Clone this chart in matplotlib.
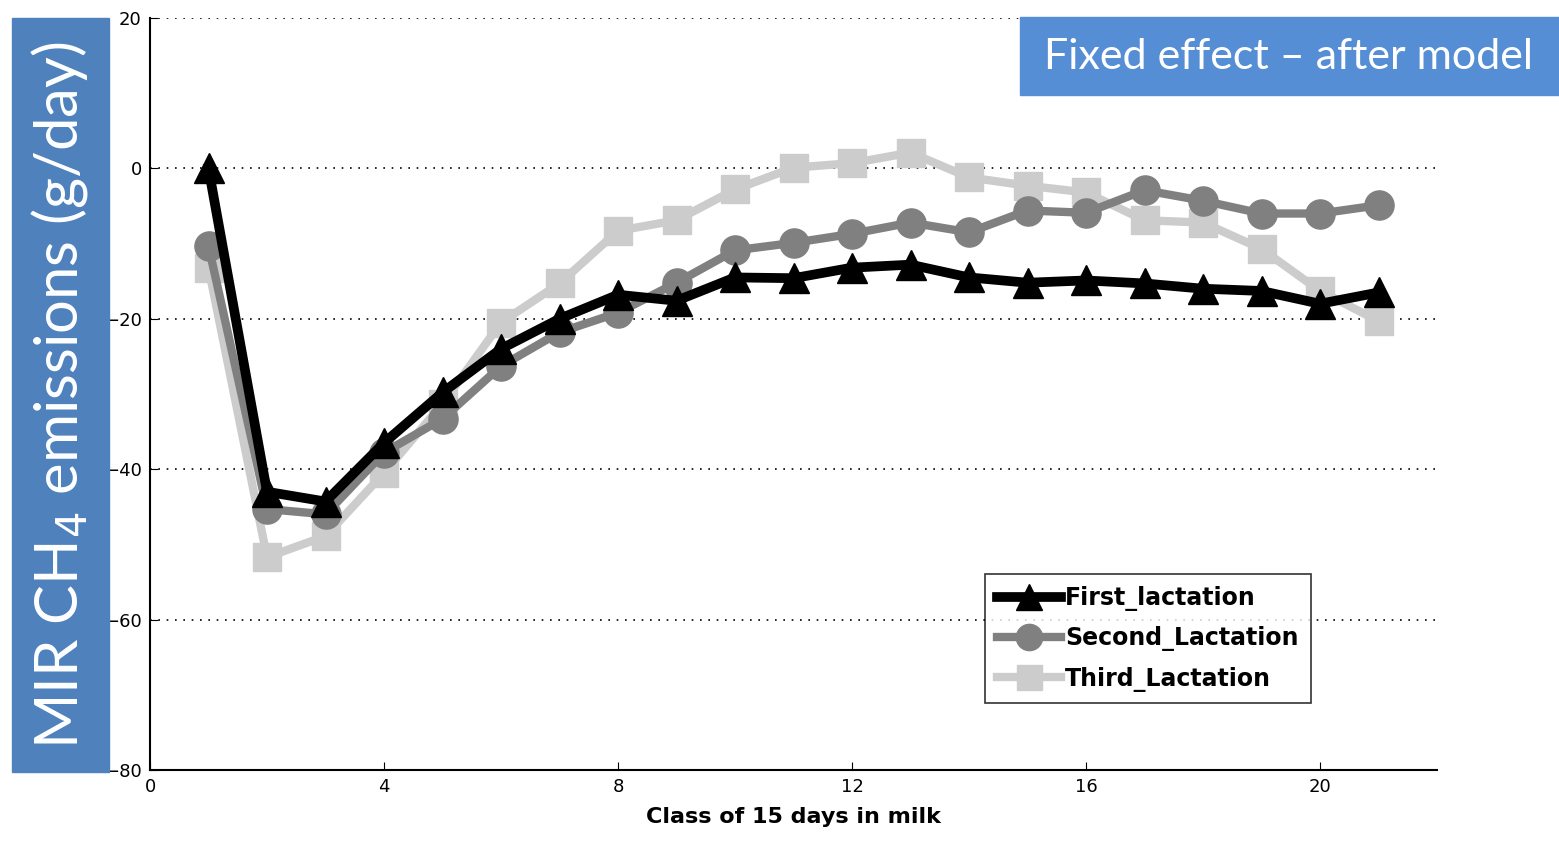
import matplotlib
matplotlib.use("Agg")
import matplotlib.pyplot as plt
from matplotlib.patches import Rectangle

x_class = list(range(1, 22))
first_lactation = [0, -43, -44.3, -36.5, -29.8, -24, -20, -16.8, -17.6, -14.5, -14.6, -13.2, -12.8,
                   -14.5, -15.2, -14.9, -15.3, -16, -16.3, -18, -16.5]
second_lactation = [-10.3, -45.3, -46, -37.8, -33.3, -26.3, -21.8, -19.2, -15.2, -10.9, -9.9, -8.7, -7.2,
                    -8.5, -5.6, -5.9, -2.9, -4.3, -6, -6, -4.9]
third_lactation = [-13.2, -51.7, -48.9, -40.5, -31.3, -20.5, -15.3, -8.3, -6.9, -2.8, 0.1, 0.7, 2.1,
                   -1.2, -2.3, -3.2, -6.9, -7.2, -10.7, -16.3, -20.3]
series_labels = ["First_lactation", "Second_Lactation", "Third_Lactation"]
x_ticks = [0, 4, 8, 12, 16, 20]
y_ticks = [-80, -60, -40, -20, 0, 20]

fig = plt.figure(figsize=(15.59, 8.46), dpi=100)
ax = fig.add_axes([150/1559, 1-770/846, (1437-150)/1559, (770-18)/846])

ax.plot(x_class, third_lactation, color="#cccccc", lw=6, marker="s", ms=20, label=series_labels[2], zorder=3)
ax.plot(x_class, second_lactation, color="#808080", lw=6, marker="o", ms=21, label=series_labels[1], zorder=4)
ax.plot(x_class, first_lactation, color="black", lw=7, marker="^", ms=21, label=series_labels[0], zorder=5)

ax.set_xlim(0, 22)
ax.set_ylim(-80, 20)
ax.set_xticks(x_ticks)
ax.set_yticks(y_ticks)
ax.tick_params(direction="in", length=6, labelsize=13, colors="black", pad=6)
ax.yaxis.grid(True, linestyle=(0, (1, 4)), color="black", lw=1.2)
ax.set_axisbelow(True)
for s in ["top", "right"]:
    ax.spines[s].set_visible(False)
for s in ["left", "bottom"]:
    ax.spines[s].set_linewidth(1.5)
ax.set_xlabel("Class of 15 days in milk", fontsize=16, fontweight="bold", labelpad=8)

handles, labels = ax.get_legend_handles_labels()
order = [2, 1, 0]
leg = ax.legend([handles[i] for i in order], [labels[i] for i in order],
                loc="upper left", bbox_to_anchor=((985-150)/1287, 1-(574-18)/752),
                frameon=True, fancybox=False, edgecolor="black",
                prop={"weight": "bold", "size": 17}, handlelength=2.7, markerscale=0.9,
                borderpad=0.5, labelspacing=0.65, handletextpad=0.2, borderaxespad=0)
leg.get_frame().set_linewidth(1.2)

# y-label box
fig.patches.append(Rectangle((12/1559, 1-772/846), (109-12)/1559, (772-18)/846,
                             transform=fig.transFigure, color="#4F81BD", zorder=0))
fig.text(60/1559, 1-395/846, r"MIR CH$_4$ emissions (g/day)", rotation=90, color="white",
         fontsize=43, family="Lato", ha="center", va="center")

# title box
fig.patches.append(Rectangle((1020/1559, 1-95/846), (1559-1020)/1559, (95-17)/846,
                             transform=fig.transFigure, color="#558ED5", zorder=0))
fig.text(1289/1559, 1-57/846, "Fixed effect \u2013 after model", color="white",
         fontsize=31, family="Lato", ha="center", va="center")

fig.savefig("out.png", dpi=100)
